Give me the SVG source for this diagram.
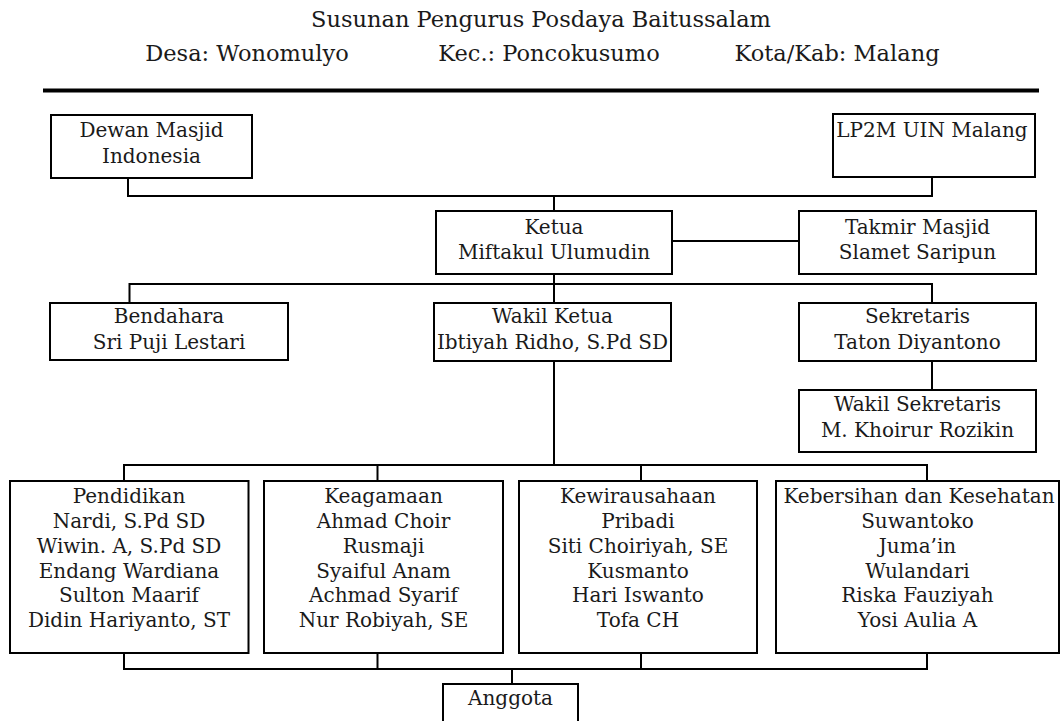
<svg xmlns="http://www.w3.org/2000/svg" width="1061" height="721" viewBox="0 0 1061 721">
<style>
.t{font-family:"DejaVu Serif","Liberation Serif",serif;font-size:20px;fill:#1a1a1a;text-anchor:middle}
.h{font-family:"DejaVu Serif","Liberation Serif",serif;font-size:22.5px;fill:#1a1a1a;text-anchor:middle}
.b{fill:#fff;stroke:#000;stroke-width:2}
.c{fill:none;stroke:#000;stroke-width:2}
</style>
<rect width="1061" height="721" fill="#fff"/>
<g id="header">
<text class="h" x="541" y="27">Susunan Pengurus Posdaya Baitussalam</text>
<text class="h" x="247" y="61">Desa: Wonomulyo</text>
<text class="h" x="549" y="61">Kec.: Poncokusumo</text>
<text class="h" x="837" y="61">Kota/Kab: Malang</text>
<line x1="43" y1="90.5" x2="1039" y2="90.5" stroke="#000" stroke-width="4"/>
</g>
<g id="connectors">
<polyline class="c" points="128,178 128,196 932,196 932,177"/>
<line class="c" x1="554" y1="196" x2="554" y2="211"/>
<line class="c" x1="672" y1="241" x2="799" y2="241"/>
<polyline class="c" points="129.5,303 129.5,284 932,284 932,303"/>
<line class="c" x1="554" y1="274" x2="554" y2="303"/>
<line class="c" x1="932" y1="361" x2="932" y2="390"/>
<line class="c" x1="554" y1="361" x2="554" y2="465"/>
<polyline class="c" points="124,481 124,465 927,465 927,481"/>
<line class="c" x1="377.5" y1="465" x2="377.5" y2="481"/>
<line class="c" x1="641" y1="465" x2="641" y2="481"/>
<polyline class="c" points="124,653 124,669 927,669 927,653"/>
<line class="c" x1="377.5" y1="653" x2="377.5" y2="669"/>
<line class="c" x1="641" y1="653" x2="641" y2="669"/>
<line class="c" x1="512" y1="669" x2="512" y2="684"/>
</g>
<g id="dewan">
<rect class="b" x="51" y="115" width="201" height="63"/>
<text class="t" x="151.5" y="137">Dewan Masjid</text>
<text class="t" x="151.5" y="163">Indonesia</text>
</g>
<g id="lp2m">
<rect class="b" x="833" y="114" width="202" height="63"/>
<text class="t" x="932" y="137">LP2M UIN Malang</text>
</g>
<g id="ketua">
<rect class="b" x="436" y="211" width="236" height="63"/>
<text class="t" x="554" y="234">Ketua</text>
<text class="t" x="554" y="259">Miftakul Ulumudin</text>
</g>
<g id="takmir">
<rect class="b" x="799" y="211" width="237" height="63"/>
<text class="t" x="917.5" y="234">Takmir Masjid</text>
<text class="t" x="917.5" y="259">Slamet Saripun</text>
</g>
<g id="bendahara">
<rect class="b" x="50" y="303" width="238" height="57"/>
<text class="t" x="169" y="323">Bendahara</text>
<text class="t" x="169" y="349">Sri Puji Lestari</text>
</g>
<g id="wakil-ketua">
<rect class="b" x="434" y="303" width="237" height="58"/>
<text class="t" x="552.5" y="323">Wakil Ketua</text>
<text class="t" x="552.5" y="349">Ibtiyah Ridho, S.Pd SD</text>
</g>
<g id="sekretaris">
<rect class="b" x="799" y="303" width="237" height="58"/>
<text class="t" x="917.5" y="323">Sekretaris</text>
<text class="t" x="917.5" y="349">Taton Diyantono</text>
</g>
<g id="wakil-sekretaris">
<rect class="b" x="799" y="390" width="237" height="62"/>
<text class="t" x="917.5" y="411">Wakil Sekretaris</text>
<text class="t" x="917.5" y="437">M. Khoirur Rozikin</text>
</g>
<g id="pendidikan">
<rect class="b" x="10" y="481" width="238.5" height="172"/>
<text class="t" x="129" y="503">Pendidikan</text>
<text class="t" x="129" y="528">Nardi, S.Pd SD</text>
<text class="t" x="129" y="553">Wiwin. A, S.Pd SD</text>
<text class="t" x="129" y="578">Endang Wardiana</text>
<text class="t" x="129" y="602">Sulton Maarif</text>
<text class="t" x="129" y="627">Didin Hariyanto, ST</text>
</g>
<g id="keagamaan">
<rect class="b" x="264" y="481" width="239" height="172"/>
<text class="t" x="383.5" y="503">Keagamaan</text>
<text class="t" x="383.5" y="528">Ahmad Choir</text>
<text class="t" x="383.5" y="553">Rusmaji</text>
<text class="t" x="383.5" y="578">Syaiful Anam</text>
<text class="t" x="383.5" y="602">Achmad Syarif</text>
<text class="t" x="383.5" y="627">Nur Robiyah, SE</text>
</g>
<g id="kewirausahaan">
<rect class="b" x="519" y="481" width="238" height="172"/>
<text class="t" x="638" y="503">Kewirausahaan</text>
<text class="t" x="638" y="528">Pribadi</text>
<text class="t" x="638" y="553">Siti Choiriyah, SE</text>
<text class="t" x="638" y="578">Kusmanto</text>
<text class="t" x="638" y="602">Hari Iswanto</text>
<text class="t" x="638" y="627">Tofa CH</text>
</g>
<g id="kebersihan">
<rect class="b" x="776" y="481" width="283" height="172"/>
<text class="t" x="919" y="503">Kebersihan dan Kesehatan</text>
<text class="t" x="917.5" y="528">Suwantoko</text>
<text class="t" x="917.5" y="553">Juma’in</text>
<text class="t" x="917.5" y="578">Wulandari</text>
<text class="t" x="917.5" y="602">Riska Fauziyah</text>
<text class="t" x="917.5" y="627">Yosi Aulia A</text>
</g>
<g id="anggota">
<rect class="b" x="443" y="684" width="135" height="45"/>
<text class="t" x="510.5" y="705">Anggota</text>
</g>
</svg>
